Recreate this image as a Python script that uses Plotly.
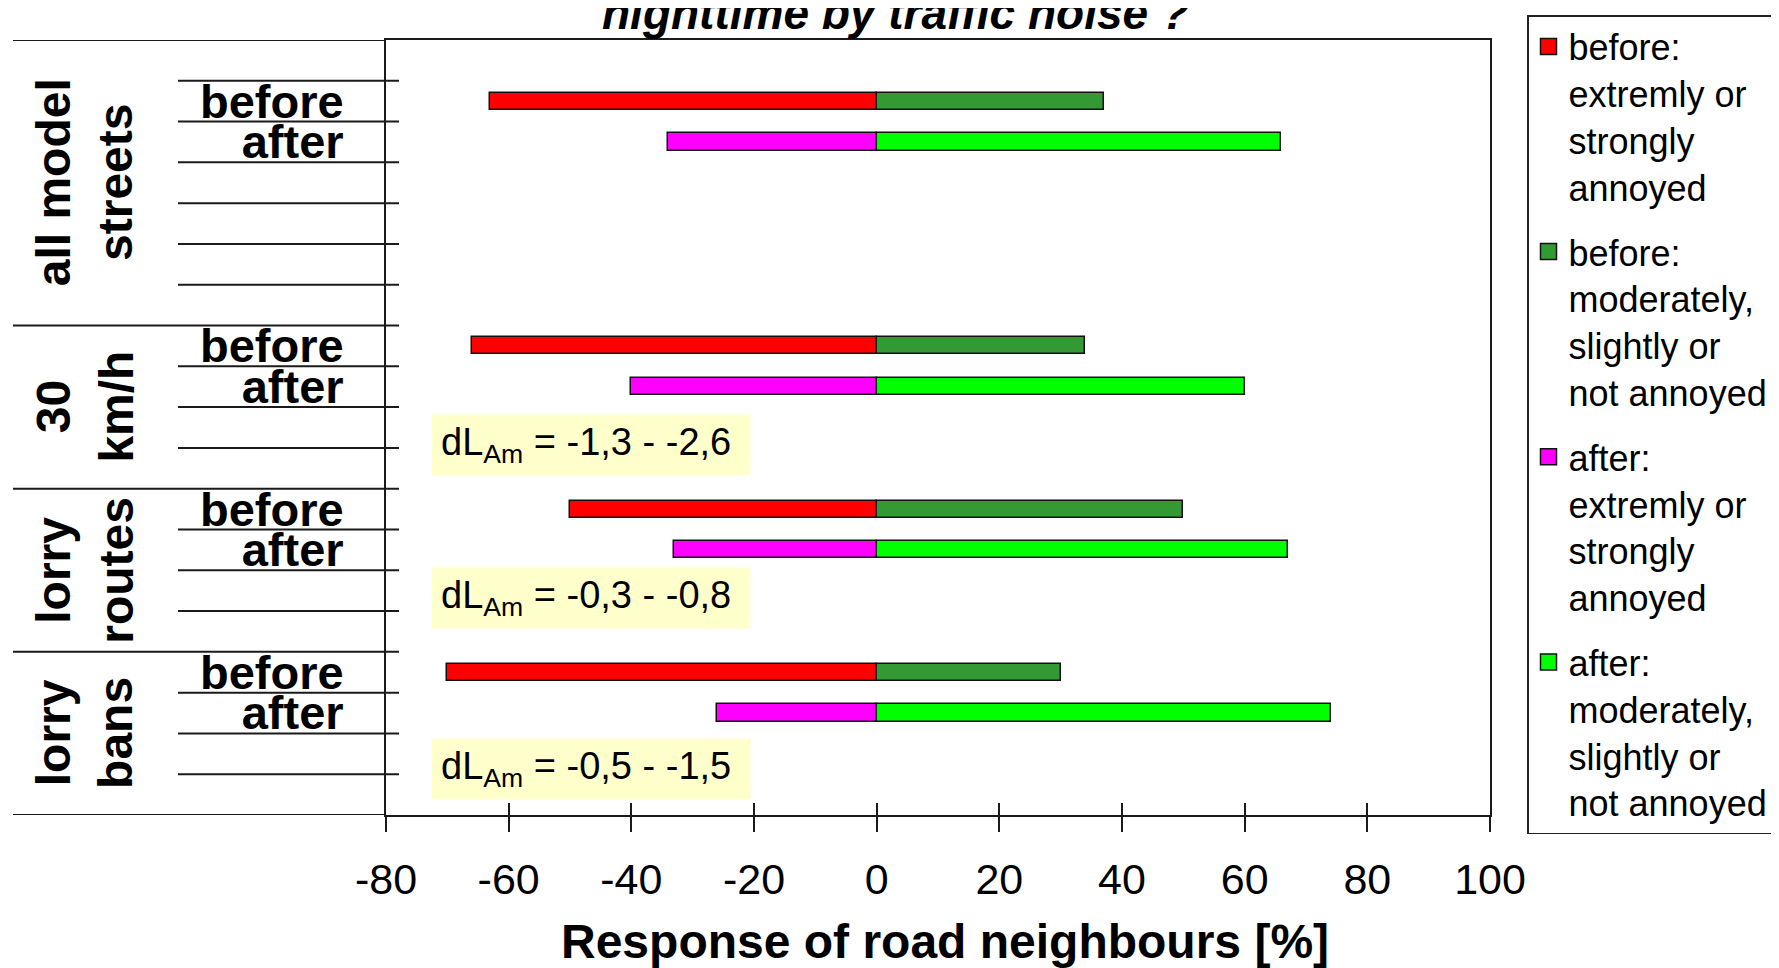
import plotly.graph_objects as go

# --- data -------------------------------------------------------------
group_labels = ["all model<br>streets", "30<br>km/h", "lorry<br>routes", "lorry<br>bans"]
group_start = [0, 7, 11, 15]          # first row of each group
group_end = [7, 11, 15, 19]           # row after last row of each group
before_offset = [1, 0, 0, 0]          # row of "before" inside the group

before_annoyed = [-63, -66, -50, -70]
before_not = [37, 34, 50, 30]
after_annoyed = [-34, -40, -33, -26]
after_not = [66, 60, 67, 74]

dl_texts = [None,
            "dL<sub>Am</sub> = -1,3 - -2,6",
            "dL<sub>Am</sub> = -0,3 - -0,8",
            "dL<sub>Am</sub> = -0,5 - -1,5"]
dl_offset = [None, 2.92, 2.69, 2.86]

x_ticks = [-80, -60, -40, -20, 0, 20, 40, 60, 80, 100]
row_names = ["before", "after"]

legend_names = [
    "before:<br>extremly or<br>strongly<br>annoyed",
    "before:<br>moderately,<br>slightly or<br>not annoyed",
    "after:<br>extremly or<br>strongly<br>annoyed",
    "after:<br>moderately,<br>slightly or<br>not annoyed",
]
colors = ["#ff0000", "#339933", "#ff00ff", "#00ff00"]

# --- geometry (screen pixels; page body adds an 8px offset) -------------
W, H = 1779, 968
OFF = 8
PL, PR, PT, PB = 386, 1490, 40, 815   # plot box on screen
ML, MT = PL - OFF, PT - OFF
MR, MB = W - (PR - OFF), H - (PB - OFF)
FONT = "Liberation Sans, Arial, sans-serif"
LINE = "#1a1a1a"


def px_x(sx):
    return (sx - PL) / (PR - PL)


def px_y(sy):
    return (PB - sy) / (PB - PT)


y_before = [s + o + 0.5 for s, o in zip(group_start, before_offset)]
y_after = [y + 1 for y in y_before]

fig = go.Figure()
series = [(before_annoyed, y_before), (before_not, y_before),
          (after_annoyed, y_after), (after_not, y_after)]
for i, (vals, ys) in enumerate(series):
    fig.add_trace(go.Bar(
        x=vals, y=ys, orientation="h", width=0.42,
        name=legend_names[i], legendgroup=str(i), showlegend=False,
        marker=dict(color=colors[i], line=dict(color="#111", width=1.5)),
    ))
    # legend entry with a bigger square swatch than the bar icon
    fig.add_trace(go.Scatter(
        x=[None], y=[None], mode="markers", name=legend_names[i],
        legendgroup=str(i), hoverinfo="skip",
        marker=dict(symbol="square", size=16, color=colors[i],
                    line=dict(color="#111", width=1.5)),
    ))
# empty trace so the overlaid axis carrying the inner tick marks is drawn
fig.add_trace(go.Scatter(x=[None], y=[None], xaxis="x2", showlegend=False,
                         hoverinfo="skip"))

tickvals, ticktext = [], []
for yb, ya in zip(y_before, y_after):
    tickvals += [yb, ya]
    ticktext += row_names

shapes = []
# long separators between groups (and the extended top / bottom frame)
for y in [0, 7, 11, 15, 19]:
    shapes.append(dict(type="line", xref="paper", yref="y",
                       x0=px_x(13), x1=px_x(399) if y not in (0, 19) else 0,
                       y0=y, y1=y, line=dict(color=LINE, width=2)))
# short row separators
for s, e in zip(group_start, group_end):
    for r in range(s + 1, e):
        shapes.append(dict(type="line", xref="paper", yref="y",
                           x0=px_x(178), x1=px_x(399), y0=r, y1=r,
                           line=dict(color=LINE, width=2)))

annotations = []
for lab, s, e in zip(group_labels, group_start, group_end):
    annotations.append(dict(
        text=lab, textangle=-90, xref="paper", yref="y",
        x=px_x(84.5), y=(s + e) / 2, xanchor="center", yanchor="middle",
        showarrow=False, align="center",
        font=dict(family=FONT, size=48, color="black", weight="bold")))

for txt, s, off in zip(dl_texts, group_start, dl_offset):
    if txt is None:
        continue
    annotations.append(dict(
        text=txt, xref="x", yref="y", x=-72.7, y=s + off,
        xanchor="left", yanchor="middle", showarrow=False,
        width=300, height=42, borderpad=9, bgcolor="#ffffcc", align="left",
        font=dict(family=FONT, size=38, color="black")))

annotations.append(dict(
    text="<b><i>nighttime by traffic noise ?</i></b>",
    xref="paper", yref="paper", x=px_x(895), y=px_y(13),
    xanchor="center", yanchor="middle", showarrow=False,
    font=dict(family=FONT, size=46, color="black")))

annotations.append(dict(
    text="<b>Response of road neighbours [%]</b>",
    xref="paper", yref="paper", x=px_x(945), y=px_y(941.5),
    xanchor="center", yanchor="middle", showarrow=False,
    font=dict(family=FONT, size=48, color="black")))

fig.update_layout(
    width=W, height=H,
    margin=dict(l=ML, r=MR, t=MT, b=MB, autoexpand=False),
    paper_bgcolor="white", plot_bgcolor="white",
    barmode="relative", bargap=0,
    showlegend=True,
    legend=dict(
        x=px_x(1527), y=px_y(15), xanchor="left", yanchor="top",
        bgcolor="white", bordercolor="#222", borderwidth=1.5,
        font=dict(family=FONT, size=36, color="black"),
        valign="top", tracegroupgap=15, maxheight=1000, itemsizing="trace",
    ),
    xaxis=dict(
        range=[-80, 100], tickvals=x_ticks, ticktext=[str(v) for v in x_ticks],
        showgrid=False, zeroline=False,
        showline=True, mirror=True, linecolor=LINE, linewidth=2,
        ticks="outside", ticklen=15, tickwidth=1.5, tickcolor=LINE,
        ticklabelstandoff=10,
        tickfont=dict(family=FONT, size=43, color="black"),
    ),
    xaxis2=dict(
        range=[-80, 100], overlaying="x", anchor="y", side="bottom",
        tickvals=x_ticks, ticks="inside", ticklen=12, tickwidth=1.5,
        tickcolor=LINE, showticklabels=False, showgrid=False,
        zeroline=False, showline=False,
    ),
    yaxis=dict(
        range=[19, 0], tickvals=tickvals, ticktext=ticktext,
        showgrid=False, zeroline=False, showline=True, mirror=True,
        linecolor=LINE, linewidth=2, ticks="", ticklabelstandoff=31,
        tickfont=dict(family=FONT, size=47, color="black", weight="bold"),
    ),
    shapes=shapes,
    annotations=annotations,
)

fig.write_html("out.html")
